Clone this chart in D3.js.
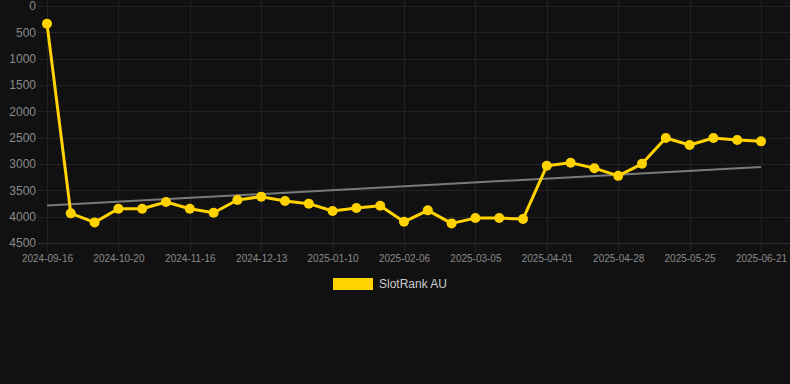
<!DOCTYPE html>
<html>
<head>
<meta charset="utf-8">
<script src="https://cdn.jsdelivr.net/npm/d3@7"></script>
<style>
  html, body { margin: 0; padding: 0; background: #111111; }
  svg { display: block; font-family: Arial, "Liberation Sans", Helvetica, sans-serif; }
</style>
</head>
<body>
<svg id="chart" width="790" height="384"></svg>
<script>
const categories = [
  "2024-09-16","2024-09-28","2024-10-09","2024-10-20","2024-10-29","2024-11-07",
  "2024-11-16","2024-11-25","2024-12-04","2024-12-13","2024-12-22","2024-12-31",
  "2025-01-10","2025-01-19","2025-01-28","2025-02-06","2025-02-15","2025-02-24",
  "2025-03-05","2025-03-14","2025-03-23","2025-04-01","2025-04-10","2025-04-19",
  "2025-04-28","2025-05-07","2025-05-16","2025-05-25","2025-06-03","2025-06-12",
  "2025-06-21"
];
const rankValues = [
  338, 3937, 4109, 3849, 3849, 3721, 3849, 3925, 3683, 3620, 3702, 3753,
  3893, 3836, 3792, 4097, 3880, 4128, 4027, 4027, 4046, 3034, 2977, 3079,
  3225, 2996, 2506, 2640, 2506, 2545, 2570
];
const xTickLabels = [
  "2024-09-16","2024-10-20","2024-11-16","2024-12-13","2025-01-10","2025-02-06",
  "2025-03-05","2025-04-01","2025-04-28","2025-05-25","2025-06-21"
];
const yTickValues = [0, 500, 1000, 1500, 2000, 2500, 3000, 3500, 4000, 4500];
const seriesName = "SlotRank AU";

(function () {
const W = 790, H = 384;
const plotLeft = 47, plotRight = 761, plotTop = 6, plotBottom = 243;
const svg = d3.select("#chart");
svg.append("rect").attr("width", W).attr("height", H).attr("fill", "#111111");

const x = d3.scalePoint().domain(categories).range([plotLeft, plotRight]);
const y = d3.scaleLinear().domain([0, 4500]).range([plotTop, plotBottom]);

// horizontal grid
svg.append("g").selectAll("line").data(yTickValues).join("line")
  .attr("x1", 38).attr("x2", W)
  .attr("y1", d => Math.round(y(d)) + 0.5).attr("y2", d => Math.round(y(d)) + 0.5)
  .attr("stroke", d => d === 4500 ? "#2e2e2e" : "#222222").attr("stroke-width", 1);

// vertical grid
svg.append("g").selectAll("line").data(xTickLabels).join("line")
  .attr("x1", d => Math.round(x(d)) + 0.5).attr("x2", d => Math.round(x(d)) + 0.5)
  .attr("y1", 0).attr("y2", 252)
  .attr("stroke", "#222222").attr("stroke-width", 1);

// y axis labels
const yAxis = d3.axisLeft(y).tickValues(yTickValues).tickSize(0).tickPadding(0).tickFormat(d3.format("d"));
svg.append("g").attr("transform", "translate(36,0)").call(yAxis)
  .call(g => g.select(".domain").remove())
  .call(g => g.selectAll("text").attr("fill", "#8a8a8a").attr("font-size", 12)
    .attr("font-family", "Arial, 'Liberation Sans', sans-serif"));

// x axis labels
const xAxis = d3.axisBottom(x).tickValues(xTickLabels).tickSize(0).tickPadding(0);
svg.append("g").attr("transform", "translate(0,255)").call(xAxis)
  .call(g => g.select(".domain").remove())
  .call(g => g.selectAll("text").attr("fill", "#8a8a8a").attr("font-size", 10)
    .attr("font-family", "Arial, 'Liberation Sans', sans-serif"));

// trend line (least squares)
const n = rankValues.length;
const idx = d3.range(n);
const mx = d3.mean(idx), my = d3.mean(rankValues);
const slope = d3.sum(idx, i => (i - mx) * (rankValues[i] - my)) / d3.sum(idx, i => (i - mx) * (i - mx));
const icpt = my - slope * mx;
svg.append("line")
  .attr("x1", x(categories[0])).attr("y1", y(icpt))
  .attr("x2", x(categories[n - 1])).attr("y2", y(icpt + slope * (n - 1)))
  .attr("stroke", "#7a7a7a").attr("stroke-width", 2);

// series line
const gold = "#FFD200";
svg.append("path")
  .datum(rankValues)
  .attr("fill", "none").attr("stroke", gold).attr("stroke-width", 3)
  .attr("stroke-linejoin", "round")
  .attr("d", d3.line().x((d, i) => x(categories[i])).y(d => y(d)));

svg.append("g").selectAll("circle").data(rankValues).join("circle")
  .attr("cx", (d, i) => x(categories[i])).attr("cy", d => y(d))
  .attr("r", 5).attr("fill", gold);

// legend
svg.append("rect").attr("x", 333).attr("y", 278).attr("width", 40).attr("height", 12).attr("fill", gold);
svg.append("text").attr("x", 379).attr("y", 284).attr("dy", "0.35em")
  .attr("fill", "#cccccc").attr("font-size", 12)
  .attr("font-family", "Arial, 'Liberation Sans', sans-serif")
  .text(seriesName);
})();
</script>
</body>
</html>
